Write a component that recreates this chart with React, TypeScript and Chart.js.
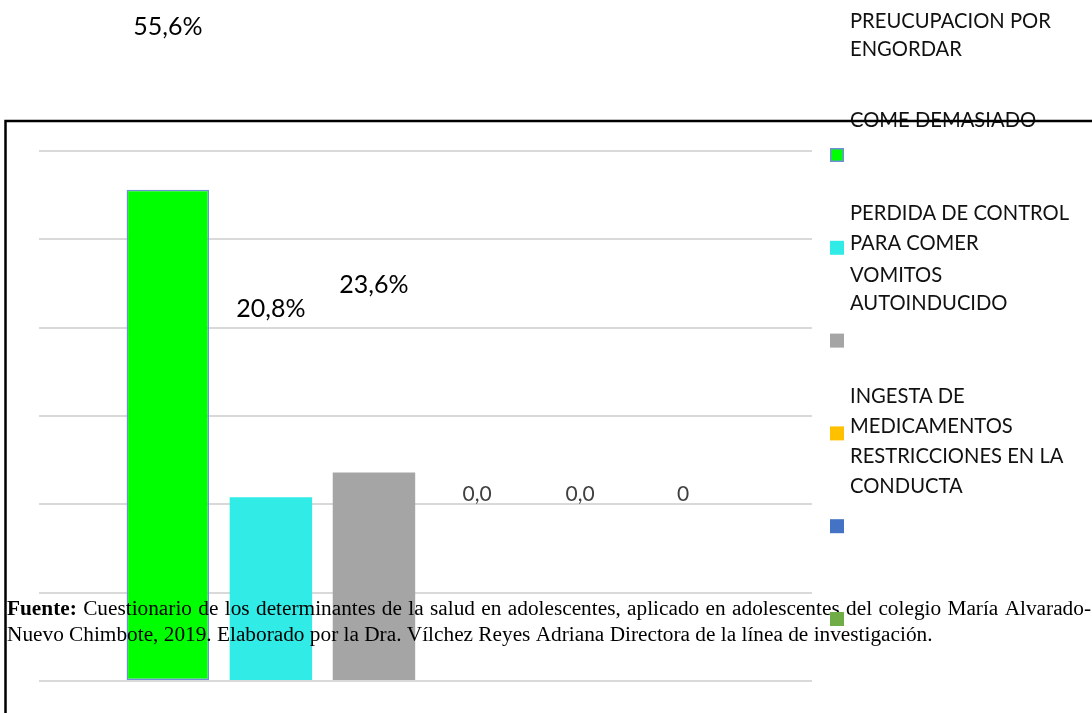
import React, { useEffect, useRef } from "react";
import { Chart, registerables } from "chart.js";

Chart.register(...registerables);

// Single category, one dataset per eating-behaviour indicator
const categories = [""];
const seriesNames = [
  "PREUCUPACION POR ENGORDAR",
  "COME DEMASIADO",
  "PERDIDA DE CONTROL PARA COMER",
  "VOMITOS AUTOINDUCIDO",
  "INGESTA DE MEDICAMENTOS",
  "RESTRICCIONES EN LA CONDUCTA",
];
const seriesValues = [55.6, 20.8, 23.6, 0, 0, 0];
const valueLabels = ["55,6%", "20,8%", "23,6%", "0,0", "0,0", "0"];
const seriesColors = ["#00FF00", "#31EBE6", "#A5A5A5", "#FFC000", "#4472C4", "#70AD47"];
const yMin = 0;
const yMax = 60;
const yStep = 10;

// Legend text, broken into the lines it is set in
const legendTextLines = [
  "PREUCUPACION POR",
  "ENGORDAR",
  "COME DEMASIADO",
  "PERDIDA DE CONTROL",
  "PARA COMER",
  "VOMITOS",
  "AUTOINDUCIDO",
  "INGESTA DE",
  "MEDICAMENTOS",
  "RESTRICCIONES EN LA",
  "CONDUCTA",
];

const sourceBold = "Fuente:";
const sourceLine1 =
  "Cuestionario de los determinantes de la salud en adolescentes, aplicado en adolescentes del colegio María Alvarado-";
const sourceLine2 =
  "Nuevo Chimbote, 2019. Elaborado por la Dra. Vílchez Reyes Adriana Directora de la línea de investigación.";

const LEGEND_X = 850;
const LEGEND_MARK_X = 830;
const LEGEND_MARK = 14;
const LEGEND_FIRST_MARK_Y = 148;
const LEGEND_MARK_STEP = 92.8;
const legendBaselines = [28, 56, 127, 220, 250, 282, 310, 403, 433, 463, 493];
const SOURCE_FONT = "21.3px 'Liberation Serif'";
const SOURCE_BOLD_FONT = "bold 21.3px 'Liberation Serif'";

const overlayPlugin = {
  id: "overlay",
  afterDraw(chart: any) {
    const ctx: CanvasRenderingContext2D = chart.ctx;
    const yScale = chart.scales.y;
    ctx.save();

    // value labels above each bar
    seriesValues.forEach((v, i) => {
      const bar = chart.getDatasetMeta(i).data[0];
      const top = yScale.getPixelForValue(v);
      const lift = i === 0 ? 155 : 180;
      ctx.textAlign = "center";
      ctx.textBaseline = "alphabetic";
      if (i < 3) {
        ctx.font = "25px Lato";
        ctx.fillStyle = "#000000";
      } else {
        ctx.font = "21px Lato";
        ctx.fillStyle = "#404040";
      }
      ctx.fillText(valueLabels[i], bar.x, top - lift);
    });

    // legend text
    ctx.textAlign = "left";
    ctx.font = "20.2px Lato";
    ctx.fillStyle = "#111111";
    legendTextLines.forEach((t, k) => {
      ctx.fillText(t, LEGEND_X, legendBaselines[k]);
    });

    // source note (first line justified to the right edge)
    ctx.fillStyle = "#000000";
    const x0 = 7;
    ctx.font = SOURCE_BOLD_FONT;
    const boldW = ctx.measureText(sourceBold).width;
    ctx.font = SOURCE_FONT;
    const words = sourceLine1.split(" ");
    const spaceW = ctx.measureText(" ").width;
    const wordsW = words.reduce((s, w) => s + ctx.measureText(w).width, 0);
    const gaps = words.length;
    const right = 1091;
    const extra = Math.max(0, (right - x0 - boldW - wordsW - gaps * spaceW) / gaps);
    ctx.font = SOURCE_BOLD_FONT;
    ctx.fillText(sourceBold, x0, 615);
    ctx.font = SOURCE_FONT;
    let cx = x0 + boldW + spaceW + extra;
    words.forEach((w) => {
      ctx.fillText(w, cx, 615);
      cx += ctx.measureText(w).width + spaceW + extra;
    });
    ctx.fillText(sourceLine2, x0, 641);

    // legend markers
    seriesColors.forEach((c, i) => {
      const my = LEGEND_FIRST_MARK_Y + i * LEGEND_MARK_STEP;
      ctx.fillStyle = c;
      ctx.fillRect(LEGEND_MARK_X, my, LEGEND_MARK, LEGEND_MARK);
      if (i === 0) {
        ctx.strokeStyle = "#6F8FD8";
        ctx.lineWidth = 1.5;
        ctx.strokeRect(LEGEND_MARK_X + 0.75, my + 0.75, LEGEND_MARK - 1.5, LEGEND_MARK - 1.5);
      }
    });

    // frame
    ctx.strokeStyle = "#000000";
    ctx.lineWidth = 2.5;
    ctx.beginPath();
    ctx.moveTo(5.5, 713);
    ctx.lineTo(5.5, 121);
    ctx.lineTo(1092, 121);
    ctx.stroke();

    ctx.restore();
  },
};

export default function App() {
  const canvasRef = useRef<HTMLCanvasElement | null>(null);

  useEffect(() => {
    if (!canvasRef.current) return;
    const chart = new Chart(canvasRef.current, {
      type: "bar",
      data: {
        labels: categories,
        datasets: seriesNames.map((name, i) => ({
          label: name,
          data: [seriesValues[i]],
          backgroundColor: seriesColors[i],
          borderColor: i === 0 ? "#6F8FD8" : seriesColors[i],
          borderWidth: i === 0 ? 1.5 : 0,
          borderSkipped: false,
          categoryPercentage: 0.8,
          barPercentage: 0.8,
        })),
      },
      options: {
        animation: false,
        responsive: false,
        devicePixelRatio: 1,
        layout: { padding: { left: 39, right: 280, top: 151, bottom: 32 } },
        plugins: {
          legend: { display: false },
          tooltip: { enabled: false },
          title: { display: false },
        },
        scales: {
          x: { display: false },
          y: {
            min: yMin,
            max: yMax,
            ticks: { display: false, stepSize: yStep },
            grid: { color: "#D9D9D9", lineWidth: 2, drawTicks: false },
            border: { display: false },
          },
        },
      },
      plugins: [overlayPlugin],
    });
    return () => chart.destroy();
  }, []);

  return (
    <div style={{ position: "fixed", left: 0, top: 0, width: 1092, height: 713, background: "#ffffff" }}>
      <canvas ref={canvasRef} width={1092} height={713} style={{ display: "block" }} />
    </div>
  );
}
